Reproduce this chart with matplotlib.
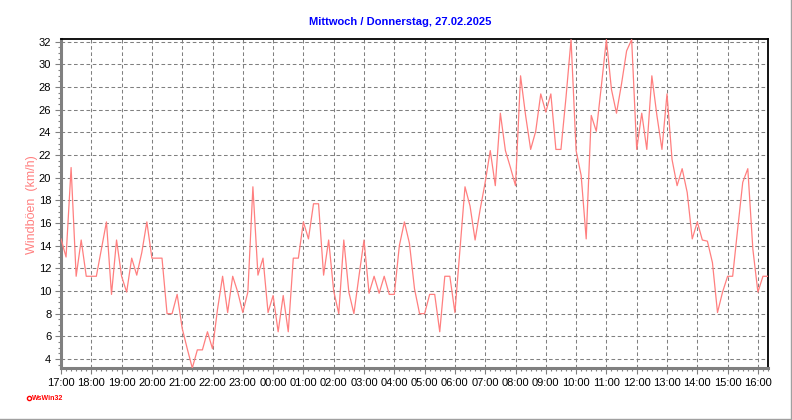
import numpy as np
import pandas as pd
import matplotlib
matplotlib.use('Agg')
import matplotlib.pyplot as plt
import matplotlib.dates as mdates
from matplotlib.ticker import MultipleLocator
from matplotlib.lines import Line2D

title = 'Mittwoch / Donnerstag, 27.02.2025'
ylabel = 'Windböen  (km/h)'
logo = 'WsWin32'
start = '2025-02-26 17:00'
end = '2025-02-27 16:20'

# wind gusts in km/h, one value every 10 minutes starting 17:00
gusts = [
    14.6, 13.0, 20.9, 11.3, 14.5, 11.3,   # 17:00
    11.3, 11.3, 13.7, 16.1, 9.7, 14.5,    # 18:00
    11.3, 9.9, 12.9, 11.4, 13.4, 16.1,    # 19:00
    12.9, 12.9, 12.9, 8.0, 8.0, 9.7,      # 20:00
    6.7, 4.9, 3.2, 4.8, 4.8, 6.4,         # 21:00
    4.9, 8.4, 11.3, 8.1, 11.3, 9.9,       # 22:00
    8.1, 9.9, 19.2, 11.4, 12.9, 8.1,      # 23:00
    9.6, 6.4, 9.6, 6.4, 12.9, 12.9,       # 00:00
    16.1, 14.6, 17.7, 17.7, 11.4, 14.5,   # 01:00
    10.0, 8.0, 14.5, 9.9, 8.0, 11.3,      # 02:00
    14.5, 9.8, 11.3, 9.8, 11.3, 9.7,      # 03:00
    9.7, 14.0, 16.1, 14.2, 10.2, 8.0,     # 04:00
    8.0, 9.7, 9.7, 6.4, 11.3, 11.3,       # 05:00
    8.1, 13.7, 19.2, 17.5, 14.5, 17.2,    # 06:00
    19.6, 22.4, 19.3, 25.7, 22.4, 20.9,   # 07:00
    19.3, 29.0, 25.5, 22.5, 24.1, 27.4,   # 08:00
    25.8, 27.4, 22.5, 22.5, 27.1, 32.2,   # 09:00
    22.4, 20.2, 14.6, 25.5, 24.1, 28.1,   # 10:00
    32.2, 27.8, 25.7, 28.3, 31.2, 32.2,   # 11:00
    22.5, 25.7, 22.5, 29.0, 25.5, 22.5,   # 12:00
    27.4, 21.6, 19.3, 20.8, 18.7, 14.6,   # 13:00
    16.1, 14.5, 14.4, 12.5, 8.1, 9.9,     # 14:00
    11.3, 11.3, 15.5, 19.6, 20.8, 13.7,   # 15:00
    9.9, 11.3, 11.3,                      # 16:00
]
times = pd.date_range(start, periods=len(gusts), freq='10min')

plt.rcParams['font.family'] = ['Liberation Sans', 'DejaVu Sans']

fig = plt.figure(figsize=(7.92, 4.2), dpi=100)
ax = fig.add_axes([61/792, 1 - 368/420, (768 - 61)/792, (368 - 39)/420])

ax.plot(times, gusts, color='#ff7f7f', lw=0.9, zorder=3)

ax.set_xlim(pd.Timestamp(start), pd.Timestamp(end))
ax.set_ylim(3.2, 32.25)

ax.xaxis.set_major_locator(mdates.HourLocator())
ax.xaxis.set_minor_locator(mdates.MinuteLocator(byminute=range(0, 60, 10)))
ax.xaxis.set_major_formatter(mdates.DateFormatter('%H:%M'))
ax.yaxis.set_major_locator(MultipleLocator(2))
ax.yaxis.set_minor_locator(MultipleLocator(0.5))

ax.grid(True, which='major', color='#808080', linestyle=(0, (3.5, 2.5)), linewidth=0.75)

ax.tick_params(which='both', color='#808080', labelsize=8, labelcolor='black', width=0.8)
ax.tick_params(which='major', length=4, pad=3)
ax.tick_params(which='minor', length=2.2)

for side in ['left', 'bottom']:
    ax.spines[side].set_color('#808080')
    ax.spines[side].set_linewidth(2.2)
for side in ['top', 'right']:
    ax.spines[side].set_color('black')
    ax.spines[side].set_linewidth(1.3)

fig.text(400/792, 1 - 22/420, title, color='#0000ff', fontweight='bold',
         fontsize=8, ha='center', va='center')
fig.text(31.5/792, 1 - 205/420, ylabel, color='#ff8080', rotation=90,
         fontsize=9, ha='center', va='center')

# little logo bottom left
fig.add_artist(Line2D([29/792], [1 - 398/420], marker='o', ms=3, color='red',
                      mfc='white', mew=1, transform=fig.transFigure))
fig.text(32/792, 1 - 398.5/420, logo, color='red', fontsize=5, fontweight='bold',
         va='center', ha='left')

# frame of the picture
fig.add_artist(Line2D([790.5/792, 790.5/792], [0, 1], color='#a0a0a0', lw=1,
                      transform=fig.transFigure))
fig.add_artist(Line2D([0, 1], [1 - 418.5/420, 1 - 418.5/420], color='#a0a0a0', lw=1,
                      transform=fig.transFigure))

fig.savefig('out.png', dpi=100)
